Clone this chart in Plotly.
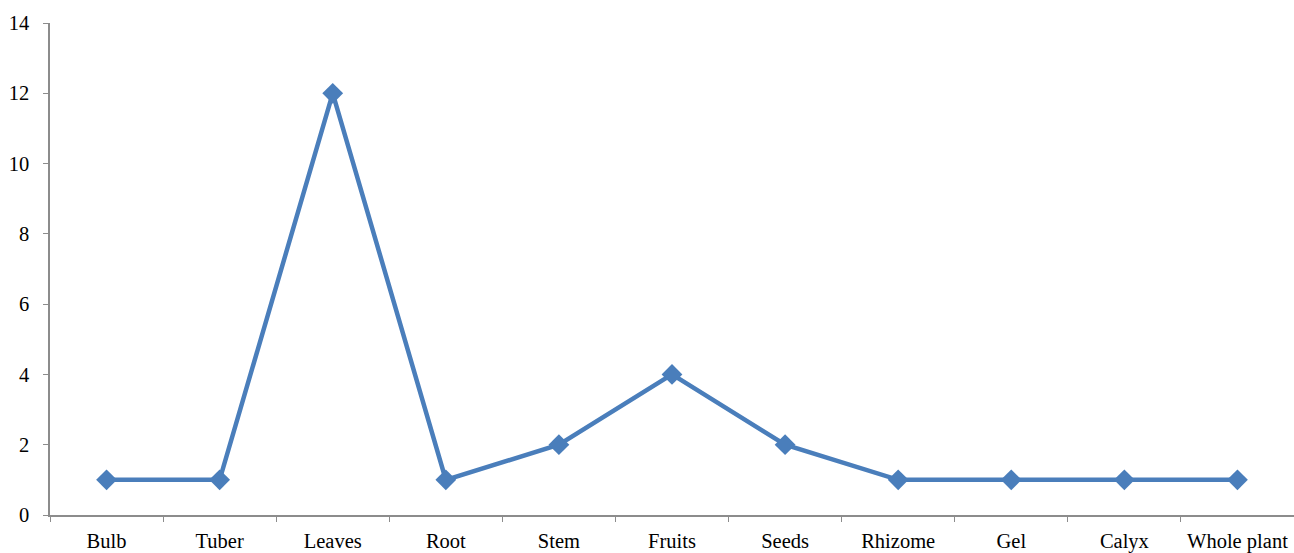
import plotly.graph_objects as go

# Plant parts used and number of species for each
parts = ["Bulb", "Tuber", "Leaves", "Root", "Stem", "Fruits", "Seeds",
         "Rhizome", "Gel", "Calyx", "Whole plant"]
counts = [1, 1, 12, 1, 2, 4, 2, 1, 1, 1, 1]

y_ticks = [0, 2, 4, 6, 8, 10, 12, 14]

line_color = "#4A7EBB"
axis_color = "#8C8C8C"
font = dict(family="Liberation Serif, Times New Roman, serif", size=20.5, color="#000000")

fig = go.Figure(
    go.Scatter(
        x=parts,
        y=counts,
        mode="lines+markers",
        line=dict(color=line_color, width=4.5),
        marker=dict(symbol="diamond", size=16, color=line_color),
        cliponaxis=False,
        showlegend=False,
    )
)

fig.update_layout(
    width=1294,
    height=553,
    margin=dict(l=50, r=0, t=23, b=35),
    paper_bgcolor="white",
    plot_bgcolor="white",
    font=font,
)

fig.update_xaxes(
    type="category",
    tickson="boundaries",
    ticks="outside",
    ticklen=5,
    tickwidth=1.3,
    tickcolor=axis_color,
    showline=True,
    linecolor=axis_color,
    linewidth=1.5,
    showgrid=False,
    zeroline=False,
    range=[-0.5, len(parts) - 0.5],
    ticklabelstandoff=7,
)

fig.update_yaxes(
    range=[0, 14],
    tickvals=y_ticks,
    ticks="outside",
    ticklen=5,
    tickwidth=1.3,
    tickcolor=axis_color,
    showline=True,
    linecolor=axis_color,
    linewidth=1.5,
    showgrid=False,
    zeroline=False,
    ticklabelstandoff=10,
)

fig.write_html("out.html")
